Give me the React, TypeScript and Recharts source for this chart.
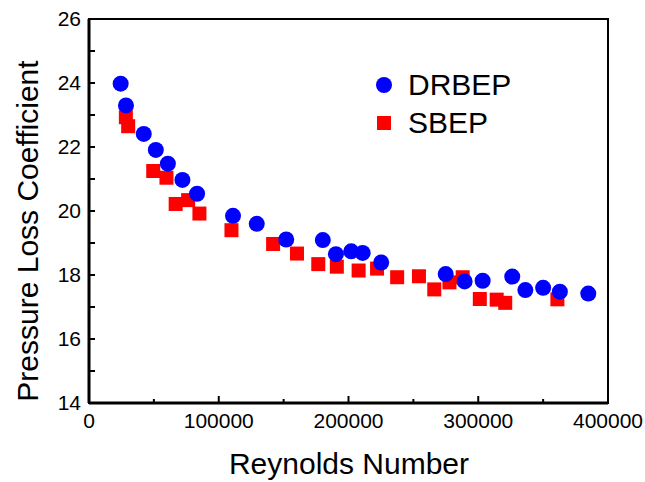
import React from "react";
import {
  ScatterChart,
  Scatter,
  XAxis,
  YAxis,
  ReferenceArea,
} from "recharts";

// DRBEP (blue circles)
const reDRBEP = [
  24400, 28500, 42200, 51500, 60800, 72000, 83300, 111000, 129300, 152000,
  180200, 190300, 202100, 210900, 225200, 274900, 289500, 303400, 326200,
  336300, 350000, 362900, 384800,
];
const kDRBEP = [
  23.98, 23.3, 22.41, 21.91, 21.48, 20.97, 20.54, 19.85, 19.6, 19.11, 19.09,
  18.65, 18.74, 18.69, 18.39, 18.03, 17.8, 17.82, 17.95, 17.53, 17.6, 17.48,
  17.42,
];

// SBEP (red squares)
const reSBEP = [
  28400, 30200, 49500, 59700, 66800, 76400, 85100, 109800, 141900, 160300,
  176700, 191000, 207800, 222000, 237500, 254300, 266100, 277800, 288000,
  301200, 314200, 320800, 361000,
];
const kSBEP = [
  22.93, 22.65, 21.25, 21.04, 20.22, 20.34, 19.92, 19.4, 18.97, 18.67, 18.34,
  18.26, 18.14, 18.2, 17.93, 17.96, 17.55, 17.77, 17.93, 17.25, 17.23, 17.13,
  17.24,
];

const xTicks = [0, 50000, 100000, 150000, 200000, 250000, 300000, 350000, 400000];
const yTicks = [14, 15, 16, 17, 18, 19, 20, 21, 22, 23, 24, 25, 26];

const drbepData = reDRBEP.map((re, i) => ({ re, k: kDRBEP[i] }));
const sbepData = reSBEP.map((re, i) => ({ re, k: kSBEP[i] }));

const FONT = "'Liberation Sans', Arial, sans-serif";

const Circle = (props: any) => (
  <circle cx={props.cx} cy={props.cy} r={8} fill="#0000ff" />
);
const Square = (props: any) => (
  <rect x={props.cx - 7} y={props.cy - 7} width={14} height={14} fill="#ff0000" />
);

// y ticks: line drawn inward, label on the outside
const YTick = (props: any) => {
  const { x, y, payload } = props;
  const v = payload.value;
  const axisX = x + 8;
  return (
    <g>
      <line x1={axisX} x2={axisX + 6} y1={y} y2={y} stroke="#000" strokeWidth={2} />
      {v % 2 === 0 && (
        <text x={x} y={y} dy="0.355em" textAnchor="end" fontSize={21} fontFamily={FONT} fill="#000">
          {v}
        </text>
      )}
    </g>
  );
};

const XTick = (props: any) => {
  const { x, y, payload } = props;
  const v = payload.value;
  const axisY = y - 10;
  const major = v % 100000 === 0;
  return (
    <g>
      {v !== 0 && v !== 400000 && (
        <line x1={x} x2={x} y1={axisY} y2={axisY - (major ? 7 : 4)} stroke="#000" strokeWidth={2} />
      )}
      {major && (
        <text x={x} y={y} dy="0.71em" textAnchor="middle" fontSize={21} fontFamily={FONT} fill="#000">
          {v}
        </text>
      )}
    </g>
  );
};

const LegendBox = () => (
  <div
    style={{
      position: "absolute",
      left: 373,
      top: 66,
      fontFamily: FONT,
      fontSize: 30,
      color: "#000",
      lineHeight: "38px",
    }}
  >
    <div style={{ display: "flex", alignItems: "center" }}>
      <svg width={35} height={38}>
        <circle cx={11} cy={19} r={8} fill="#0000ff" />
      </svg>
      <span>DRBEP</span>
    </div>
    <div style={{ display: "flex", alignItems: "center" }}>
      <svg width={35} height={38}>
        <rect x={4} y={12} width={14} height={14} fill="#ff0000" />
      </svg>
      <span>SBEP</span>
    </div>
  </div>
);

export default function App() {
  return (
    <div style={{ position: "absolute", left: 0, top: 0, width: 645, height: 482, background: "#fff" }}>
      <ScatterChart
        width={645}
        height={482}
        margin={{ top: 19, right: 37, bottom: 0, left: 0 }}
      >
        <XAxis
          type="number"
          dataKey="re"
          domain={[0, 400000]}
          ticks={xTicks}
          interval={0}
          tickSize={0}
          tickMargin={10}
          height={79}
          axisLine={{ stroke: "#000", strokeWidth: 3 }}
          tick={<XTick />}
          label={{
            content: () => (
              <text x={349} y={474} textAnchor="middle" fontSize={30} fontFamily={FONT} fill="#000">
                Reynolds Number
              </text>
            ),
          }}
        />
        <YAxis
          type="number"
          dataKey="k"
          domain={[14, 26]}
          ticks={yTicks}
          interval={0}
          tickSize={0}
          tickMargin={8}
          width={89}
          axisLine={{ stroke: "#000", strokeWidth: 3 }}
          tick={<YTick />}
          label={{
            content: () => (
              <text
                x={27}
                y={231}
                dy="0.355em"
                textAnchor="middle"
                fontSize={30}
                fontFamily={FONT}
                fill="#000"
                transform="rotate(-90, 27, 231)"
              >
                Pressure Loss Coefficient
              </text>
            ),
          }}
        />
        <ReferenceArea
          x1={0}
          x2={400000}
          y1={14}
          y2={26}
          fill="none"
          stroke="#000"
          strokeWidth={2}
        />
        <Scatter name="SBEP" data={sbepData} shape={Square} isAnimationActive={false} />
        <Scatter name="DRBEP" data={drbepData} shape={Circle} isAnimationActive={false} />
      </ScatterChart>
      <LegendBox />
    </div>
  );
}
